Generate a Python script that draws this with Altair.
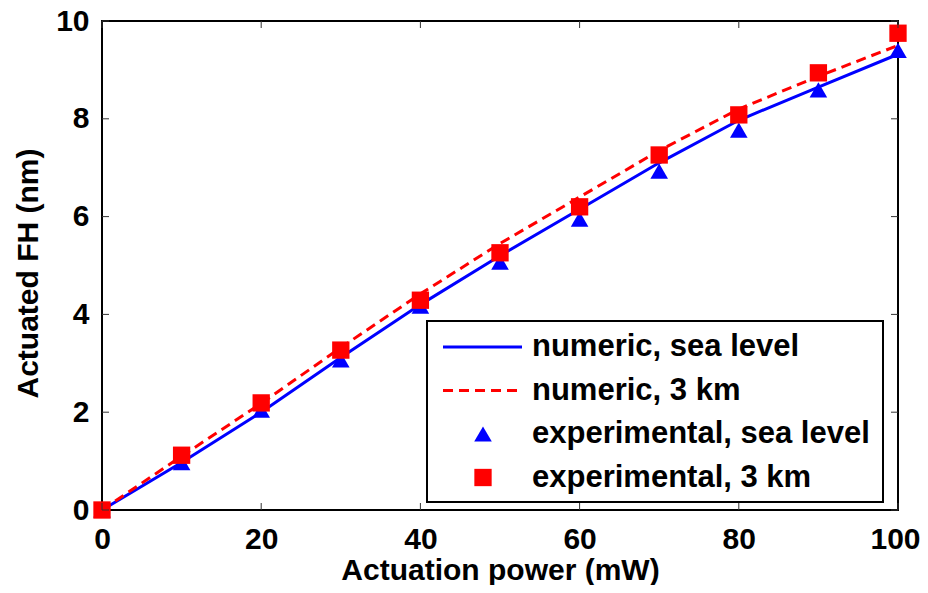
import altair as alt
import pandas as pd

# ---- data ----
power = [0, 10, 20, 30, 40, 50, 60, 70, 80, 90, 100]
num_sea = [0, 0.97, 2.0, 3.12, 4.2, 5.2, 6.15, 7.1, 7.97, 8.65, 9.32]
num_3km = [0, 1.1, 2.18, 3.32, 4.42, 5.45, 6.4, 7.35, 8.2, 8.87, 9.5]
exp_sea = [0, 0.97, 2.04, 3.07, 4.17, 5.07, 5.95, 6.93, 7.77, 8.59, 9.4]
exp_3km = [0, 1.12, 2.19, 3.27, 4.29, 5.26, 6.2, 7.26, 8.08, 8.94, 9.75]

x_ticks = [0, 20, 40, 60, 80, 100]
y_ticks = [0, 2, 4, 6, 8, 10]

series_names = ["numeric, sea level", "numeric, 3 km",
                "experimental, sea level", "experimental, 3 km"]

FONT = "Liberation Sans"
BLUE = "#0000FF"
RED = "#FF0000"

W, H = 796, 489

xs = alt.Scale(domain=[0, 100], nice=False, zero=False)
ys = alt.Scale(domain=[0, 10], nice=False, zero=False)

df_ns = pd.DataFrame({"p": power, "v": num_sea})
df_n3 = pd.DataFrame({"p": power, "v": num_3km})
df_es = pd.DataFrame({"p": power, "v": exp_sea})
df_e3 = pd.DataFrame({"p": power, "v": exp_3km})

xaxis = alt.Axis(values=x_ticks, title="Actuation power (mW)", grid=False, ticks=False,
                 domain=False, labelPadding=14, labelFlush=False, labelOverlap=False,
                 labelOffset=alt.condition("datum.value == 100", alt.value(-3), alt.value(0)),
                 titleBaseline="alphabetic", titleY=69)
yaxis = alt.Axis(values=y_ticks, title="Actuated FH (nm)", grid=False, ticks=False,
                 domain=False, labelPadding=13, labelFlush=False, labelOverlap=False,
                 titleX=-74, titleY=252, titleBaseline="middle", titleAlign="center")

line_sea = alt.Chart(df_ns).mark_line(color=BLUE, strokeWidth=3).encode(
    x=alt.X("p:Q", scale=xs, axis=xaxis),
    y=alt.Y("v:Q", scale=ys, axis=yaxis),
)
line_3 = alt.Chart(df_n3).mark_line(color=RED, strokeWidth=3, strokeDash=[10, 6]).encode(
    x=alt.X("p:Q", scale=xs), y=alt.Y("v:Q", scale=ys)
)
pts_sea = alt.Chart(df_es).mark_point(shape="triangle-up", filled=True, color=BLUE,
                                      size=310, opacity=1).encode(
    x=alt.X("p:Q", scale=xs), y=alt.Y("v:Q", scale=ys)
)
pts_3 = alt.Chart(df_e3).mark_point(shape="square", filled=True, color=RED,
                                    size=300, opacity=1).encode(
    x=alt.X("p:Q", scale=xs), y=alt.Y("v:Q", scale=ys)
)

# inward ticks on all four sides
dfx = pd.DataFrame({"t": x_ticks})
dfy = pd.DataFrame({"t": y_ticks})
TICK = "#333333"
tx_b = alt.Chart(dfx).mark_rule(color=TICK, strokeWidth=1).encode(
    x=alt.X("t:Q", scale=xs), y=alt.value(H), y2=alt.value(H - 7))
tx_t = alt.Chart(dfx).mark_rule(color=TICK, strokeWidth=1).encode(
    x=alt.X("t:Q", scale=xs), y=alt.value(0), y2=alt.value(7))
ty_l = alt.Chart(dfy).mark_rule(color=TICK, strokeWidth=1).encode(
    y=alt.Y("t:Q", scale=ys), x=alt.value(0), x2=alt.value(7))
ty_r = alt.Chart(dfy).mark_rule(color=TICK, strokeWidth=1).encode(
    y=alt.Y("t:Q", scale=ys), x=alt.value(W), x2=alt.value(W - 7))

# ---- legend ----
LX0, LX1, LY0, LY1 = 325, 781, 300, 481
ROW0, ROWH = 326, 43.5
leg_df = pd.DataFrame({"name": series_names, "row": [0, 1, 2, 3]})
leg_base = alt.Chart(leg_df).transform_calculate(ly=f"{ROW0} + datum.row * {ROWH}")

leg_box = alt.Chart(pd.DataFrame({"a": [0]})).mark_rect(
    fill="white", stroke="black", strokeWidth=2).encode(
    x=alt.value(LX0), x2=alt.value(LX1), y=alt.value(LY0), y2=alt.value(LY1))

leg_l1 = leg_base.transform_filter("datum.row == 0").mark_rule(
    color=BLUE, strokeWidth=3).encode(
    x=alt.value(341), x2=alt.value(420), y=alt.Y("ly:Q", scale=None))
leg_l2 = leg_base.transform_filter("datum.row == 1").mark_rule(
    color=RED, strokeWidth=3, strokeDash=[10, 6]).encode(
    x=alt.value(341), x2=alt.value(420), y=alt.Y("ly:Q", scale=None))
leg_p1 = leg_base.transform_filter("datum.row == 2").mark_point(
    shape="triangle-up", filled=True, color=BLUE, size=310, opacity=1).encode(
    x=alt.value(381), y=alt.Y("ly:Q", scale=None))
leg_p2 = leg_base.transform_filter("datum.row == 3").mark_point(
    shape="square", filled=True, color=RED, size=300, opacity=1).encode(
    x=alt.value(381), y=alt.Y("ly:Q", scale=None))
leg_txt = leg_base.mark_text(align="left", baseline="middle", font=FONT,
                             fontWeight="bold", fontSize=31, color="black").encode(
    x=alt.value(430), y=alt.Y("ly:Q", scale=None), text="name:N")

chart = alt.layer(
    line_sea, line_3, pts_sea, pts_3,
    tx_b, tx_t, ty_l, ty_r,
    leg_box, leg_l1, leg_l2, leg_p1, leg_p2, leg_txt,
).properties(
    width=W, height=H,
    autosize=alt.AutoSizeParams(type="none"),
    padding={"left": 94, "top": 13, "right": 22, "bottom": 75},
    background="white",
).configure_view(
    stroke="black", strokeWidth=2
).configure_axis(
    labelFont=FONT, labelFontWeight="bold", labelFontSize=30, labelColor="black",
    titleFont=FONT, titleFontWeight="bold", titleFontSize=30, titleColor="black",
)

chart.save("out.html", embed_options={"renderer": "svg", "actions": False})
